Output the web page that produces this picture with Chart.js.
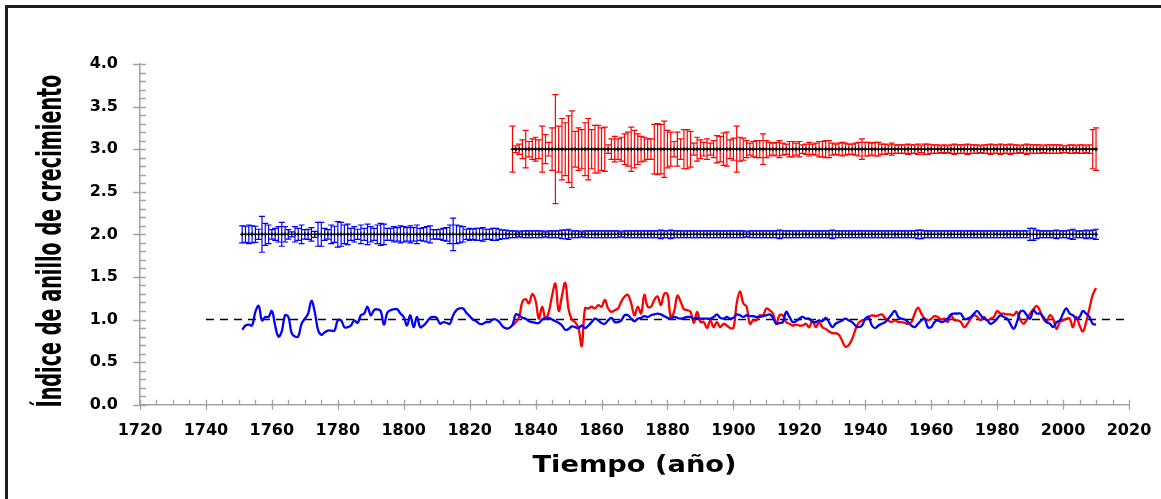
<!DOCTYPE html>
<html><head><meta charset="utf-8">
<script src="https://cdn.jsdelivr.net/npm/chart.js@4.4.1/dist/chart.umd.min.js"></script>
<style>
html,body{margin:0;padding:0;background:#fff;overflow:hidden;width:1161px;height:499px;}
#wrap{position:relative;width:1161px;height:499px;overflow:hidden;}
#frame{position:absolute;left:5px;top:5px;width:1200px;height:600px;border-left:3px solid #1e1e1e;border-top:3px solid #1e1e1e;pointer-events:none;}
canvas{position:absolute;left:0;top:0;}
</style></head><body>
<div id="wrap"><canvas id="c" width="1161" height="499"></canvas><div id="frame"></div></div>
<script>
// ---------- DATA ----------
const xTickLabels = [1720,1740,1760,1780,1800,1820,1840,1860,1880,1900,1920,1940,1960,1980,2000,2020];
const yTickLabels = [0,0.5,1.0,1.5,2.0,2.5,3.0,3.5,4.0];
const xTitle = 'Tiempo (año)';
const yTitle = 'Índice de anillo de crecimiento';

const blueStartYear = 1751;
const blueIndex = [
0.88,0.93,0.94,0.93,1.09,1.16,0.99,1.03,1.03,1.10,
0.93,0.80,0.86,1.05,1.03,0.84,0.80,0.80,0.95,1.01,
1.07,1.22,1.09,0.88,0.82,0.85,0.87,0.87,0.87,0.99,
0.99,0.91,0.91,0.93,0.99,0.96,1.05,1.07,1.15,1.05,
1.11,1.12,1.10,0.94,1.08,1.11,1.12,1.12,1.07,1.03,
0.93,1.05,0.91,1.03,0.91,0.93,0.97,1.02,1.03,1.02,
0.95,0.97,0.96,0.95,1.05,1.11,1.13,1.13,1.08,1.04,
1.00,0.98,0.95,0.95,0.97,0.97,1.00,1.00,0.97,0.92,
0.895,0.90,0.94,1.06,1.05,1.02,1.01,0.98,0.97,0.96,
0.96,1.00,1.02,1.02,1.00,0.98,0.96,0.93,0.88,0.89,
0.92,0.91,0.90,0.93,0.90,0.93,0.97,1.01,0.99,0.96,
0.95,0.99,1.02,0.97,0.97,0.99,1.05,1.05,1.01,0.98,
1.01,1.02,1.04,1.03,1.05,1.06,1.07,1.06,1.04,1.02,
1.01,1.03,1.02,1.01,1.02,1.03,1.03,1.01,1.02,1.01,
1.01,1.01,1.01,1.03,1.06,1.02,1.01,1.03,1.01,1.02,
1.06,1.05,1.03,1.05,1.04,1.04,1.03,1.03,1.04,1.05,
1.06,1.02,0.95,0.96,0.97,1.09,1.03,0.97,0.98,1.01,
1.03,1.01,1.01,0.97,0.97,0.99,0.98,1.02,0.97,0.91,
0.95,0.97,0.99,1.01,0.99,0.97,0.93,0.91,0.93,1.01,
1.03,0.93,0.90,0.93,0.95,0.97,1.01,1.06,1.10,1.03,
1.01,1.00,0.97,0.93,0.91,0.95,0.99,1.01,0.91,0.91,
0.97,0.99,0.97,0.98,1.01,1.06,1.07,1.07,1.07,1.01,
1.01,1.03,1.07,1.10,1.05,1.01,0.99,0.95,0.97,1.01,
1.05,1.03,1.01,0.95,0.89,0.97,1.09,1.10,1.05,1.01,
1.11,1.07,1.07,1.03,0.97,0.95,0.91,0.97,0.99,1.07,
1.13,1.07,1.05,1.01,1.03,1.10,1.07,1.03,0.95,0.94];

const redStartYear = 1833;
const redIndex = [
0.93,0.97,1.03,1.21,1.24,1.19,1.30,1.22,
1.01,1.15,1.01,1.09,1.28,1.42,1.10,1.28,1.43,1.12,
1.00,0.97,0.90,0.69,1.13,1.13,1.15,1.13,1.17,1.15,
1.23,1.13,1.09,1.11,1.13,1.21,1.27,1.29,1.19,1.05,
1.15,1.07,1.29,1.15,1.15,1.23,1.27,1.17,1.30,1.30,
1.03,1.09,1.28,1.21,1.12,1.11,1.09,0.96,1.09,0.97,
0.97,0.90,0.99,0.91,0.97,0.91,0.95,0.93,0.90,0.90,
1.19,1.33,1.19,1.15,0.95,0.99,0.99,1.05,1.05,1.13,
1.11,1.07,0.95,1.05,1.05,0.97,0.95,0.93,0.94,0.93,
0.93,0.95,0.91,0.99,0.91,0.97,0.91,0.89,0.86,0.84,
0.84,0.82,0.75,0.68,0.70,0.77,0.88,0.96,0.99,1.00,
1.03,1.05,1.04,1.05,1.06,1.02,0.99,0.97,0.99,0.97,
0.97,0.96,0.95,0.97,1.07,1.14,1.07,1.01,0.99,1.01,
1.04,1.03,1.00,1.01,0.97,1.05,0.99,0.99,0.97,0.91,
0.95,1.01,1.05,1.03,0.99,1.03,0.99,1.01,1.03,1.10,
1.07,1.07,1.06,1.06,1.05,1.09,1.00,0.95,1.00,1.07,
1.12,1.16,1.10,1.01,0.97,1.05,1.01,0.89,0.97,0.99,
1.01,1.01,0.91,1.03,0.93,0.86,0.97,1.13,1.29,1.37];

const blueMean = 2.0;
const blueError = [
0.10,0.095,0.11,0.10,0.095,0.06,0.21,0.13,0.11,0.055,
0.07,0.09,0.14,0.09,0.055,0.03,0.09,0.07,0.11,0.055,
0.06,0.08,0.035,0.14,0.14,0.07,0.055,0.11,0.095,0.15,
0.14,0.11,0.12,0.07,0.09,0.06,0.11,0.07,0.12,0.09,
0.07,0.11,0.13,0.12,0.07,0.07,0.09,0.08,0.10,0.09,
0.08,0.10,0.08,0.11,0.07,0.08,0.09,0.10,0.055,0.055,
0.06,0.07,0.08,0.11,0.19,0.11,0.10,0.09,0.06,0.07,
0.06,0.07,0.07,0.08,0.06,0.06,0.07,0.07,0.06,0.05,
0.05,0.04,0.04,0.04,0.03,0.04,0.04,0.04,0.04,0.04,
0.04,0.04,0.03,0.04,0.04,0.04,0.04,0.05,0.05,0.06,
0.04,0.04,0.04,0.03,0.04,0.04,0.04,0.04,0.04,0.04,
0.04,0.04,0.04,0.04,0.04,0.03,0.04,0.04,0.04,0.04,
0.04,0.04,0.04,0.04,0.04,0.04,0.04,0.05,0.04,0.04,
0.05,0.04,0.04,0.04,0.04,0.04,0.04,0.04,0.04,0.04,
0.04,0.04,0.04,0.04,0.04,0.04,0.04,0.04,0.04,0.04,
0.04,0.04,0.04,0.03,0.04,0.04,0.04,0.04,0.04,0.04,
0.04,0.04,0.04,0.05,0.04,0.04,0.04,0.04,0.04,0.04,
0.04,0.04,0.04,0.04,0.04,0.04,0.04,0.04,0.04,0.05,
0.04,0.04,0.04,0.04,0.04,0.04,0.04,0.04,0.04,0.04,
0.04,0.04,0.04,0.04,0.04,0.04,0.04,0.04,0.04,0.04,
0.04,0.04,0.04,0.04,0.04,0.05,0.05,0.04,0.04,0.04,
0.04,0.04,0.04,0.04,0.04,0.04,0.04,0.04,0.04,0.04,
0.04,0.04,0.04,0.04,0.04,0.04,0.04,0.04,0.04,0.04,
0.04,0.04,0.04,0.04,0.04,0.04,0.04,0.04,0.04,0.07,
0.07,0.05,0.04,0.04,0.04,0.04,0.04,0.05,0.04,0.04,
0.04,0.05,0.06,0.04,0.04,0.04,0.05,0.04,0.05,0.06];

const redMean = 3.0;
const redError = [
0.27,0.04,0.06,0.11,0.22,0.09,0.12,0.14,
0.11,0.27,0.17,0.08,0.25,0.64,0.27,0.36,0.31,0.39,
0.45,0.21,0.25,0.23,0.31,0.36,0.23,0.28,0.28,0.25,
0.26,0.05,0.12,0.15,0.12,0.14,0.18,0.20,0.26,0.22,
0.18,0.15,0.14,0.12,0.12,0.29,0.30,0.29,0.33,0.22,
0.20,0.09,0.20,0.12,0.23,0.23,0.21,0.07,0.14,0.11,
0.08,0.12,0.07,0.10,0.16,0.15,0.19,0.20,0.11,0.13,
0.27,0.14,0.13,0.10,0.07,0.09,0.10,0.10,0.18,0.10,
0.08,0.07,0.08,0.10,0.07,0.06,0.09,0.09,0.07,0.09,
0.05,0.06,0.08,0.06,0.07,0.09,0.09,0.10,0.10,0.07,
0.06,0.07,0.08,0.07,0.06,0.06,0.07,0.08,0.12,0.08,
0.08,0.07,0.08,0.08,0.06,0.06,0.05,0.07,0.05,0.05,
0.05,0.05,0.06,0.05,0.05,0.06,0.04,0.06,0.06,0.05,
0.05,0.05,0.04,0.05,0.04,0.05,0.06,0.05,0.05,0.05,
0.06,0.05,0.05,0.05,0.04,0.05,0.05,0.06,0.05,0.05,
0.06,0.05,0.05,0.06,0.05,0.05,0.04,0.05,0.06,0.05,
0.05,0.05,0.05,0.04,0.05,0.05,0.05,0.05,0.05,0.04,
0.04,0.05,0.05,0.04,0.05,0.05,0.04,0.05,0.23,0.25];

const refLineYears = [1740, 2020];
const refLineValue = 1.0;

// ---------- BUILD ----------
const bluePts = blueIndex.map((v,i)=>({x: blueStartYear+i, y: v}));
const redPts  = redIndex.map((v,i)=>({x: redStartYear+i, y: v}));
const blueMeanPts = blueError.map((e,i)=>({x: blueStartYear+i, y: blueMean}));
const redMeanPts  = redError.map((e,i)=>({x: redStartYear+i, y: redMean}));
const refPts = refLineYears.map(yr=>({x: yr, y: refLineValue}));

const AXIS_COLOR = '#a3a3a3';

const errorBarPlugin = {
  id: 'errorBars',
  beforeDatasetsDraw(chart) {
    const {ctx, scales:{x, y}} = chart;
    const draw = (start, mean, errs, color) => {
      ctx.save();
      ctx.strokeStyle = color;
      ctx.lineWidth = 1.2;
      errs.forEach((e,i)=>{
        const px = x.getPixelForValue(start+i);
        const top = y.getPixelForValue(mean+e);
        const bot = y.getPixelForValue(mean-e);
        ctx.beginPath();
        ctx.moveTo(px, top); ctx.lineTo(px, bot);
        ctx.moveTo(px-3, top); ctx.lineTo(px+3, top);
        ctx.moveTo(px-3, bot); ctx.lineTo(px+3, bot);
        ctx.stroke();
      });
      ctx.restore();
    };
    draw(blueStartYear, blueMean, blueError, '#0000ff');
    draw(redStartYear, redMean, redError, '#ff0000');
  }
};

const tickPlugin = {
  id: 'tickMarks',
  afterDraw(chart) {
    const {ctx, scales:{x, y}, chartArea} = chart;
    ctx.save();
    ctx.strokeStyle = AXIS_COLOR;
    ctx.lineWidth = 1.3;
    const xMin = xTickLabels[0], xMax = xTickLabels[xTickLabels.length-1];
    const xb = chartArea.bottom;
    ctx.beginPath();
    for (let v = xMin; v <= xMax; v += 5) {
      const px = Math.round(x.getPixelForValue(v)) + 0.5;
      const major = xTickLabels.includes(v);
      if (major) { ctx.moveTo(px, xb-5); ctx.lineTo(px, xb+5); }
      else { ctx.moveTo(px, xb-5); ctx.lineTo(px, xb); }
    }
    const yl = chartArea.left;
    for (let k = 0; k <= 40; k++) {
      const v = k/10;
      const py = Math.round(y.getPixelForValue(v)) + 0.5;
      const major = (k % 5 === 0);
      if (major) { ctx.moveTo(yl-7, py); ctx.lineTo(yl+6, py); }
      else { ctx.moveTo(yl, py); ctx.lineTo(yl+6, py); }
    }
    ctx.stroke();
    ctx.restore();
  }
};

const titlePlugin = {
  id: 'axisTitles',
  afterDraw(chart) {
    const {ctx} = chart;
    // x title
    ctx.save();
    ctx.fillStyle = '#000';
    ctx.font = 'bold 23px "DejaVu Sans", Verdana, sans-serif';
    let w = ctx.measureText(xTitle).width;
    ctx.translate(634.5, 471.5);
    ctx.scale(204 / w, 1);
    ctx.textAlign = 'center';
    ctx.textBaseline = 'alphabetic';
    ctx.fillText(xTitle, 0, 0);
    ctx.restore();
    // y title
    ctx.save();
    ctx.fillStyle = '#000';
    ctx.font = 'bold 34px "Liberation Sans Narrow", "DejaVu Sans Condensed", "Liberation Sans", sans-serif';
    w = ctx.measureText(yTitle).width;
    ctx.translate(61, 241);
    ctx.rotate(-Math.PI/2);
    ctx.scale(333 / w, 1);
    ctx.textAlign = 'center';
    ctx.textBaseline = 'alphabetic';
    ctx.fillText(yTitle, 0, 0);
    ctx.restore();
  }
};

const tickFont = {family: '"DejaVu Sans", Verdana, sans-serif', size: 16, weight: 'bold'};

new Chart(document.getElementById('c'), {
  type: 'line',
  data: {
    datasets: [
      {data: bluePts, borderColor: '#0000ff', borderWidth: 2.3, pointRadius: 0, tension: 0.4, fill: false},
      {data: redPts, borderColor: '#ff0000', borderWidth: 2.3, pointRadius: 0, tension: 0.4, fill: false},
      {data: refPts, borderColor: '#000', borderWidth: 1.6, borderDash: [8,6], pointRadius: 0, fill: false},
      {data: blueMeanPts, borderColor: '#000', borderWidth: 1.2, pointStyle: 'cross', pointRadius: 2, pointBorderWidth: 1.2, pointBorderColor: '#000', tension: 0, fill: false},
      {data: redMeanPts, borderColor: '#000', borderWidth: 1.2, pointStyle: 'cross', pointRadius: 2, pointBorderWidth: 1.2, pointBorderColor: '#000', tension: 0, fill: false}
    ]
  },
  options: {
    responsive: false,
    animation: false,
    devicePixelRatio: 1,
    layout: {padding: {left: 0, right: 32, top: 64, bottom: 0}},
    plugins: {legend: {display: false}, tooltip: {enabled: false}},
    scales: {
      x: {
        type: 'linear', min: xTickLabels[0], max: xTickLabels[xTickLabels.length-1],
        afterBuildTicks: s => { s.ticks = xTickLabels.map(v => ({value: v})); },
        afterFit: s => { s.height = 94.3; s.paddingLeft = 0; s.paddingRight = 0; },
        grid: {display: true, drawOnChartArea: false, drawTicks: false, color: 'rgba(0,0,0,0)'},
        border: {display: true, color: AXIS_COLOR, width: 1.5},
        ticks: {color: '#000', font: tickFont, padding: 17, maxRotation: 0, autoSkip: false, callback: v => String(v)}
      },
      y: {
        type: 'linear', min: yTickLabels[0], max: yTickLabels[yTickLabels.length-1],
        afterBuildTicks: s => { s.ticks = yTickLabels.map(v => ({value: v})); },
        afterFit: s => { s.width = 140; s.paddingTop = 0; s.paddingBottom = 0; },
        grid: {display: true, drawOnChartArea: false, drawTicks: false, color: 'rgba(0,0,0,0)'},
        border: {display: true, color: AXIS_COLOR, width: 1.5},
        ticks: {color: '#000', font: tickFont, padding: 22, autoSkip: false, callback: v => Number(v).toFixed(1)}
      }
    }
  },
  plugins: [errorBarPlugin, tickPlugin, titlePlugin]
});
</script>
</body></html>
